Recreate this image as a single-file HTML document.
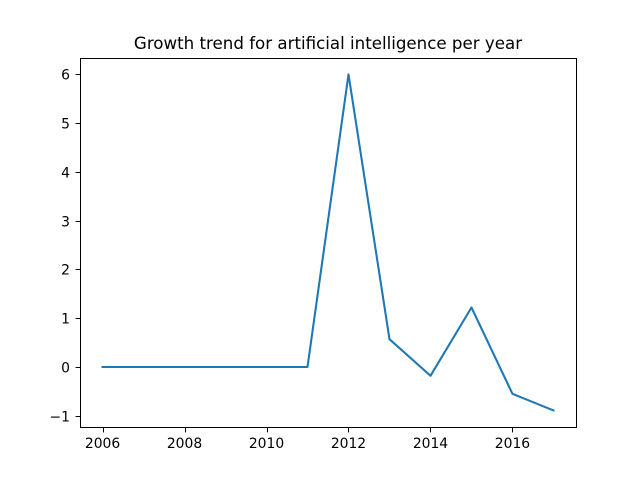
<!DOCTYPE html>
<html>
<head>
<meta charset="utf-8">
<style>
html,body{margin:0;padding:0;background:#fff;}
svg{display:block;}
text{font-family:"DejaVu Sans",sans-serif;fill:#000;}
</style>
</head>
<body>
<svg id="chart" xmlns="http://www.w3.org/2000/svg" width="640" height="480" viewBox="0 0 640 480">
<rect x="0" y="0" width="640" height="480" fill="#fff"/>
<text x="328" y="49" text-anchor="middle" font-size="16.67">Growth trend for artificial intelligence per year</text>
<g id="ticks"></g>
<polyline id="line" fill="none" stroke="#1f77b4" stroke-width="2.08" stroke-linejoin="round" stroke-linecap="square"></polyline>
<rect x="80.5" y="58.5" width="496" height="369" fill="none" stroke="#000" stroke-width="1"/>
</svg>
<script>
const years = [2006, 2007, 2008, 2009, 2010, 2011, 2012, 2013, 2014, 2015, 2016, 2017];
const growth = [0, 0, 0, 0, 0, 0, 6, 0.57, -0.18, 1.22, -0.55, -0.89];
const xTickLabels = [2006, 2008, 2010, 2012, 2014, 2016];
const yTickLabels = [-1, 0, 1, 2, 3, 4, 5, 6];

const NS = 'http://www.w3.org/2000/svg';
const plot = { left: 80, right: 576, top: 57.6, bottom: 427.2 };
const xMin = Math.min(...years), xMax = Math.max(...years);
const yMin = Math.min(...growth), yMax = Math.max(...growth);
const xPad = (xMax - xMin) * 0.05, yPad = (yMax - yMin) * 0.05;
function xScale(v) {
  return plot.left + (v - (xMin - xPad)) / (xMax - xMin + 2 * xPad) * (plot.right - plot.left);
}
function yScale(v) {
  return plot.bottom - (v - (yMin - yPad)) / (yMax - yMin + 2 * yPad) * (plot.bottom - plot.top);
}

document.getElementById('line').setAttribute('points',
  years.map((y, i) => xScale(y).toFixed(2) + ',' + yScale(growth[i]).toFixed(2)).join(' '));

const ticks = document.getElementById('ticks');
xTickLabels.forEach(t => {
  const px = Math.round(xScale(t)) + 0.5;
  const mark = document.createElementNS(NS, 'line');
  
  
  mark.setAttribute('x1', px);
  mark.setAttribute('x2', px);
  mark.setAttribute('y1', 427.5);
  mark.setAttribute('y2', 432.4);
  mark.setAttribute('stroke', '#000');
  ticks.appendChild(mark);
  const label = document.createElementNS(NS, 'text');
  
  
  label.setAttribute('x', xScale(t));
  label.setAttribute('y', 448);
  label.setAttribute('text-anchor', 'middle');
  label.setAttribute('font-size', '13.89');
  label.textContent = String(t);
  ticks.appendChild(label);
});
yTickLabels.forEach(t => {
  const py = Math.round(yScale(t)) + 0.5;
  const mark = document.createElementNS(NS, 'line');
  
  
  mark.setAttribute('x1', 75.6);
  mark.setAttribute('x2', 80.5);
  mark.setAttribute('y1', py);
  mark.setAttribute('y2', py);
  mark.setAttribute('stroke', '#000');
  ticks.appendChild(mark);
  const label = document.createElementNS(NS, 'text');
  
  
  label.setAttribute('x', 70);
  label.setAttribute('y', py + 5);
  label.setAttribute('text-anchor', 'end');
  label.setAttribute('font-size', '13.89');
  label.textContent = t < 0 ? '\u2212' + Math.abs(t) : String(t);
  ticks.appendChild(label);
});
</script>
</body>
</html>
